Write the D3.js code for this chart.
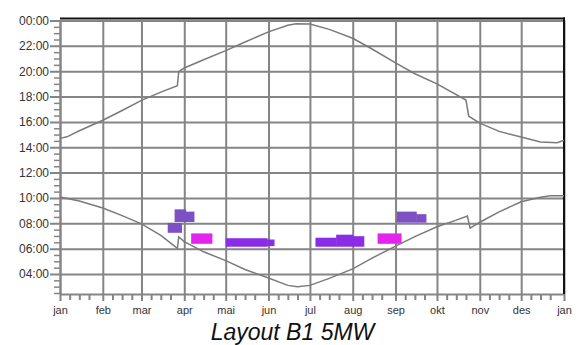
<!DOCTYPE html>
<html><head><meta charset="utf-8">
<script src="https://cdn.jsdelivr.net/npm/d3@7"></script>
<style>body{margin:0;background:#fff}svg{display:block}</style>
</head><body>
<svg id="chart" width="585" height="345"></svg>
<script>
// ---- data ----
const monthLabels = ["jan","feb","mar","apr","mai","jun","jul","aug","sep","okt","nov","des","jan"];
const hourTicks = [4,6,8,10,12,14,16,18,20,22,24];
const hourLabels = ["04:00","06:00","08:00","10:00","12:00","14:00","16:00","18:00","20:00","22:00","00:00"];
const title = "Layout B1 5MW";

// sunrise (date, decimal hour)
const sunrise = [
  ["2021-01-01",10.08],["2021-01-15",9.75],["2021-02-01",9.2],["2021-02-15",8.6],
  ["2021-03-01",7.95],["2021-03-15",7.05],["2021-03-27",6.02],["2021-03-28",6.92],
  ["2021-04-01",6.55],["2021-04-15",5.75],["2021-05-01",5.05],["2021-05-15",4.35],
  ["2021-06-01",3.68],["2021-06-15",3.1],["2021-06-22",3.0],["2021-07-01",3.1],
  ["2021-07-15",3.65],["2021-08-01",4.4],["2021-08-15",5.25],["2021-09-01",6.2],
  ["2021-09-15",6.95],["2021-10-01",7.73],["2021-10-15",8.25],["2021-10-23",8.58],
  ["2021-10-25",7.62],["2021-11-01",8.08],["2021-11-15",8.9],["2021-12-01",9.7],
  ["2021-12-15",10.05],["2021-12-22",10.18],["2022-01-01",10.17]
];
// sunset (date, decimal hour)
const sunset = [
  ["2021-01-01",14.7],["2021-01-06",14.82],["2021-01-15",15.3],["2021-02-01",16.13],
  ["2021-02-15",16.9],["2021-03-01",17.7],["2021-03-15",18.35],["2021-03-27",18.85],
  ["2021-03-28",19.97],["2021-04-01",20.25],["2021-04-15",20.9],["2021-05-01",21.62],
  ["2021-05-15",22.3],["2021-06-01",23.1],["2021-06-15",23.62],["2021-06-21",23.75],
  ["2021-07-01",23.72],["2021-07-15",23.3],["2021-08-01",22.6],["2021-08-15",21.75],
  ["2021-09-01",20.65],["2021-09-15",19.8],["2021-10-01",19.0],["2021-10-22",17.72],
  ["2021-10-24",16.45],["2021-11-01",15.9],["2021-11-15",15.25],["2021-12-01",14.8],
  ["2021-12-15",14.42],["2021-12-27",14.35],["2022-01-01",14.55]
];
// shadow blocks: start, end, top hour, bottom hour, series
const blockStart = ["2021-03-20","2021-03-25","2021-04-02","2021-04-06","2021-05-01","2021-05-31","2021-07-05","2021-07-20","2021-08-01","2021-08-19","2021-09-02","2021-09-16"];
const blockEnd   = ["2021-03-30","2021-04-02","2021-04-08","2021-04-21","2021-05-31","2021-06-05","2021-07-20","2021-08-01","2021-08-09","2021-09-05","2021-09-16","2021-09-23"];
const blockTop   = [8.03,9.1,8.92,7.2,6.82,6.72,6.86,7.1,6.98,7.2,8.92,8.72];
const blockBot   = [7.25,8.1,8.1,6.38,6.15,6.2,6.15,6.15,6.15,6.38,8.05,8.05];
const blockSeries= ["A","A","A","C","B","B","B","B","B","C","A","A"];
const seriesColor = {A:"#7d50c3", B:"#8b2ce6", C:"#e424ee"};

// ---- chart ----
const svg = d3.select("#chart");
const parse = d3.utcParse("%Y-%m-%d");
const x0 = 60, x1 = 564, yTop = 20.5, yBot = 294;
const x = d3.scaleUtc().domain([parse("2021-01-01"), parse("2022-01-01")]).range([x0, x1]);
const y = d3.scaleLinear().domain([2.42, 24]).range([yBot, yTop]);
const gridColor = "#858585";
const monthDates = d3.utcMonths(parse("2021-01-01"), parse("2022-01-02"));

// minor x ticks (weekly)
const minorX = [];
monthDates.slice(0,12).forEach(m => [7,14,21].forEach(d => minorX.push(d3.utcDay.offset(m, d))));
const xMinor = d3.axisBottom(x).tickValues(minorX).tickSize(6).tickFormat("");
svg.append("g").attr("transform",`translate(0,${yBot})`).call(xMinor)
  .call(g => g.select(".domain").remove())
  .call(g => g.selectAll("line").attr("stroke", gridColor).attr("stroke-width", 2));

// minor y ticks (30 min)
const minorY = d3.range(2.5, 24, 0.5).filter(v => v % 2 !== 0 && v >= 2.42);
const yMinor = d3.axisLeft(y).tickValues(minorY).tickSize(6).tickFormat("");
svg.append("g").attr("transform",`translate(${x0},0)`).call(yMinor)
  .call(g => g.select(".domain").remove())
  .call(g => g.selectAll("line").attr("stroke", gridColor).attr("stroke-width", 1.5));

// grid + major ticks
const xMajor = d3.axisBottom(x).tickValues(monthDates).tickSizeInner(-(yBot - yTop)).tickSizeOuter(0)
  .tickFormat((d,i) => monthLabels[i]);
const gx = svg.append("g").attr("transform",`translate(0,${yBot})`).call(xMajor);
gx.select(".domain").attr("stroke", gridColor).attr("stroke-width", 2);
gx.selectAll(".tick line").attr("stroke", gridColor).attr("stroke-width", 2).attr("y1", 7);
gx.selectAll(".tick text").attr("y", 12).attr("dy","0.71em")
  .attr("font-family","'Liberation Sans', Arial, sans-serif").attr("font-size", 11).attr("fill","#333");

const yMajor = d3.axisLeft(y).tickValues(hourTicks).tickSizeInner(-(x1 - x0)).tickSizeOuter(0)
  .tickFormat((d,i) => hourLabels[i]);
const gy = svg.append("g").attr("transform",`translate(${x0},0)`).call(yMajor);
gy.select(".domain").attr("stroke", gridColor).attr("stroke-width", 2);
gy.selectAll(".tick line").attr("stroke", gridColor).attr("stroke-width", 2).attr("x1", -10);
gy.selectAll(".tick text").attr("x", -11)
  .attr("font-family","'Liberation Sans', Arial, sans-serif").attr("font-size", 12).attr("fill","#333");

// black frame top/right
svg.append("line").attr("x1", x0).attr("x2", x1 + 1).attr("y1", y(24) - 2).attr("y2", y(24) - 2)
  .attr("stroke", "#111").attr("stroke-width", 2);
svg.append("line").attr("x1", x1).attr("x2", x1).attr("y1", y(24) - 3).attr("y2", yBot)
  .attr("stroke", "#111").attr("stroke-width", 2);

// blocks
const blocks = blockStart.map((s,i) => ({s: parse(s), e: parse(blockEnd[i]), t: blockTop[i], b: blockBot[i], k: blockSeries[i]}));
svg.append("g").selectAll("rect").data(blocks).join("rect")
  .attr("x", d => x(d.s)).attr("width", d => x(d.e) - x(d.s) + 0.5)
  .attr("y", d => y(d.t)).attr("height", d => y(d.b) - y(d.t))
  .attr("fill", d => seriesColor[d.k]);

// sun lines
const line = d3.line().x(d => x(parse(d[0]))).y(d => y(d[1])).curve(d3.curveLinear);
[sunrise, sunset].forEach(s => svg.append("path").attr("d", line(s))
  .attr("fill","none").attr("stroke","#7a7a7a").attr("stroke-width",1.5));

// title
svg.append("text").attr("x", 292.5).attr("y", 340).attr("text-anchor","middle")
  .attr("font-family","'Liberation Sans', Arial, sans-serif").attr("font-style","italic")
  .attr("font-size", 23).attr("fill","#111").text(title);
</script>
</body></html>
